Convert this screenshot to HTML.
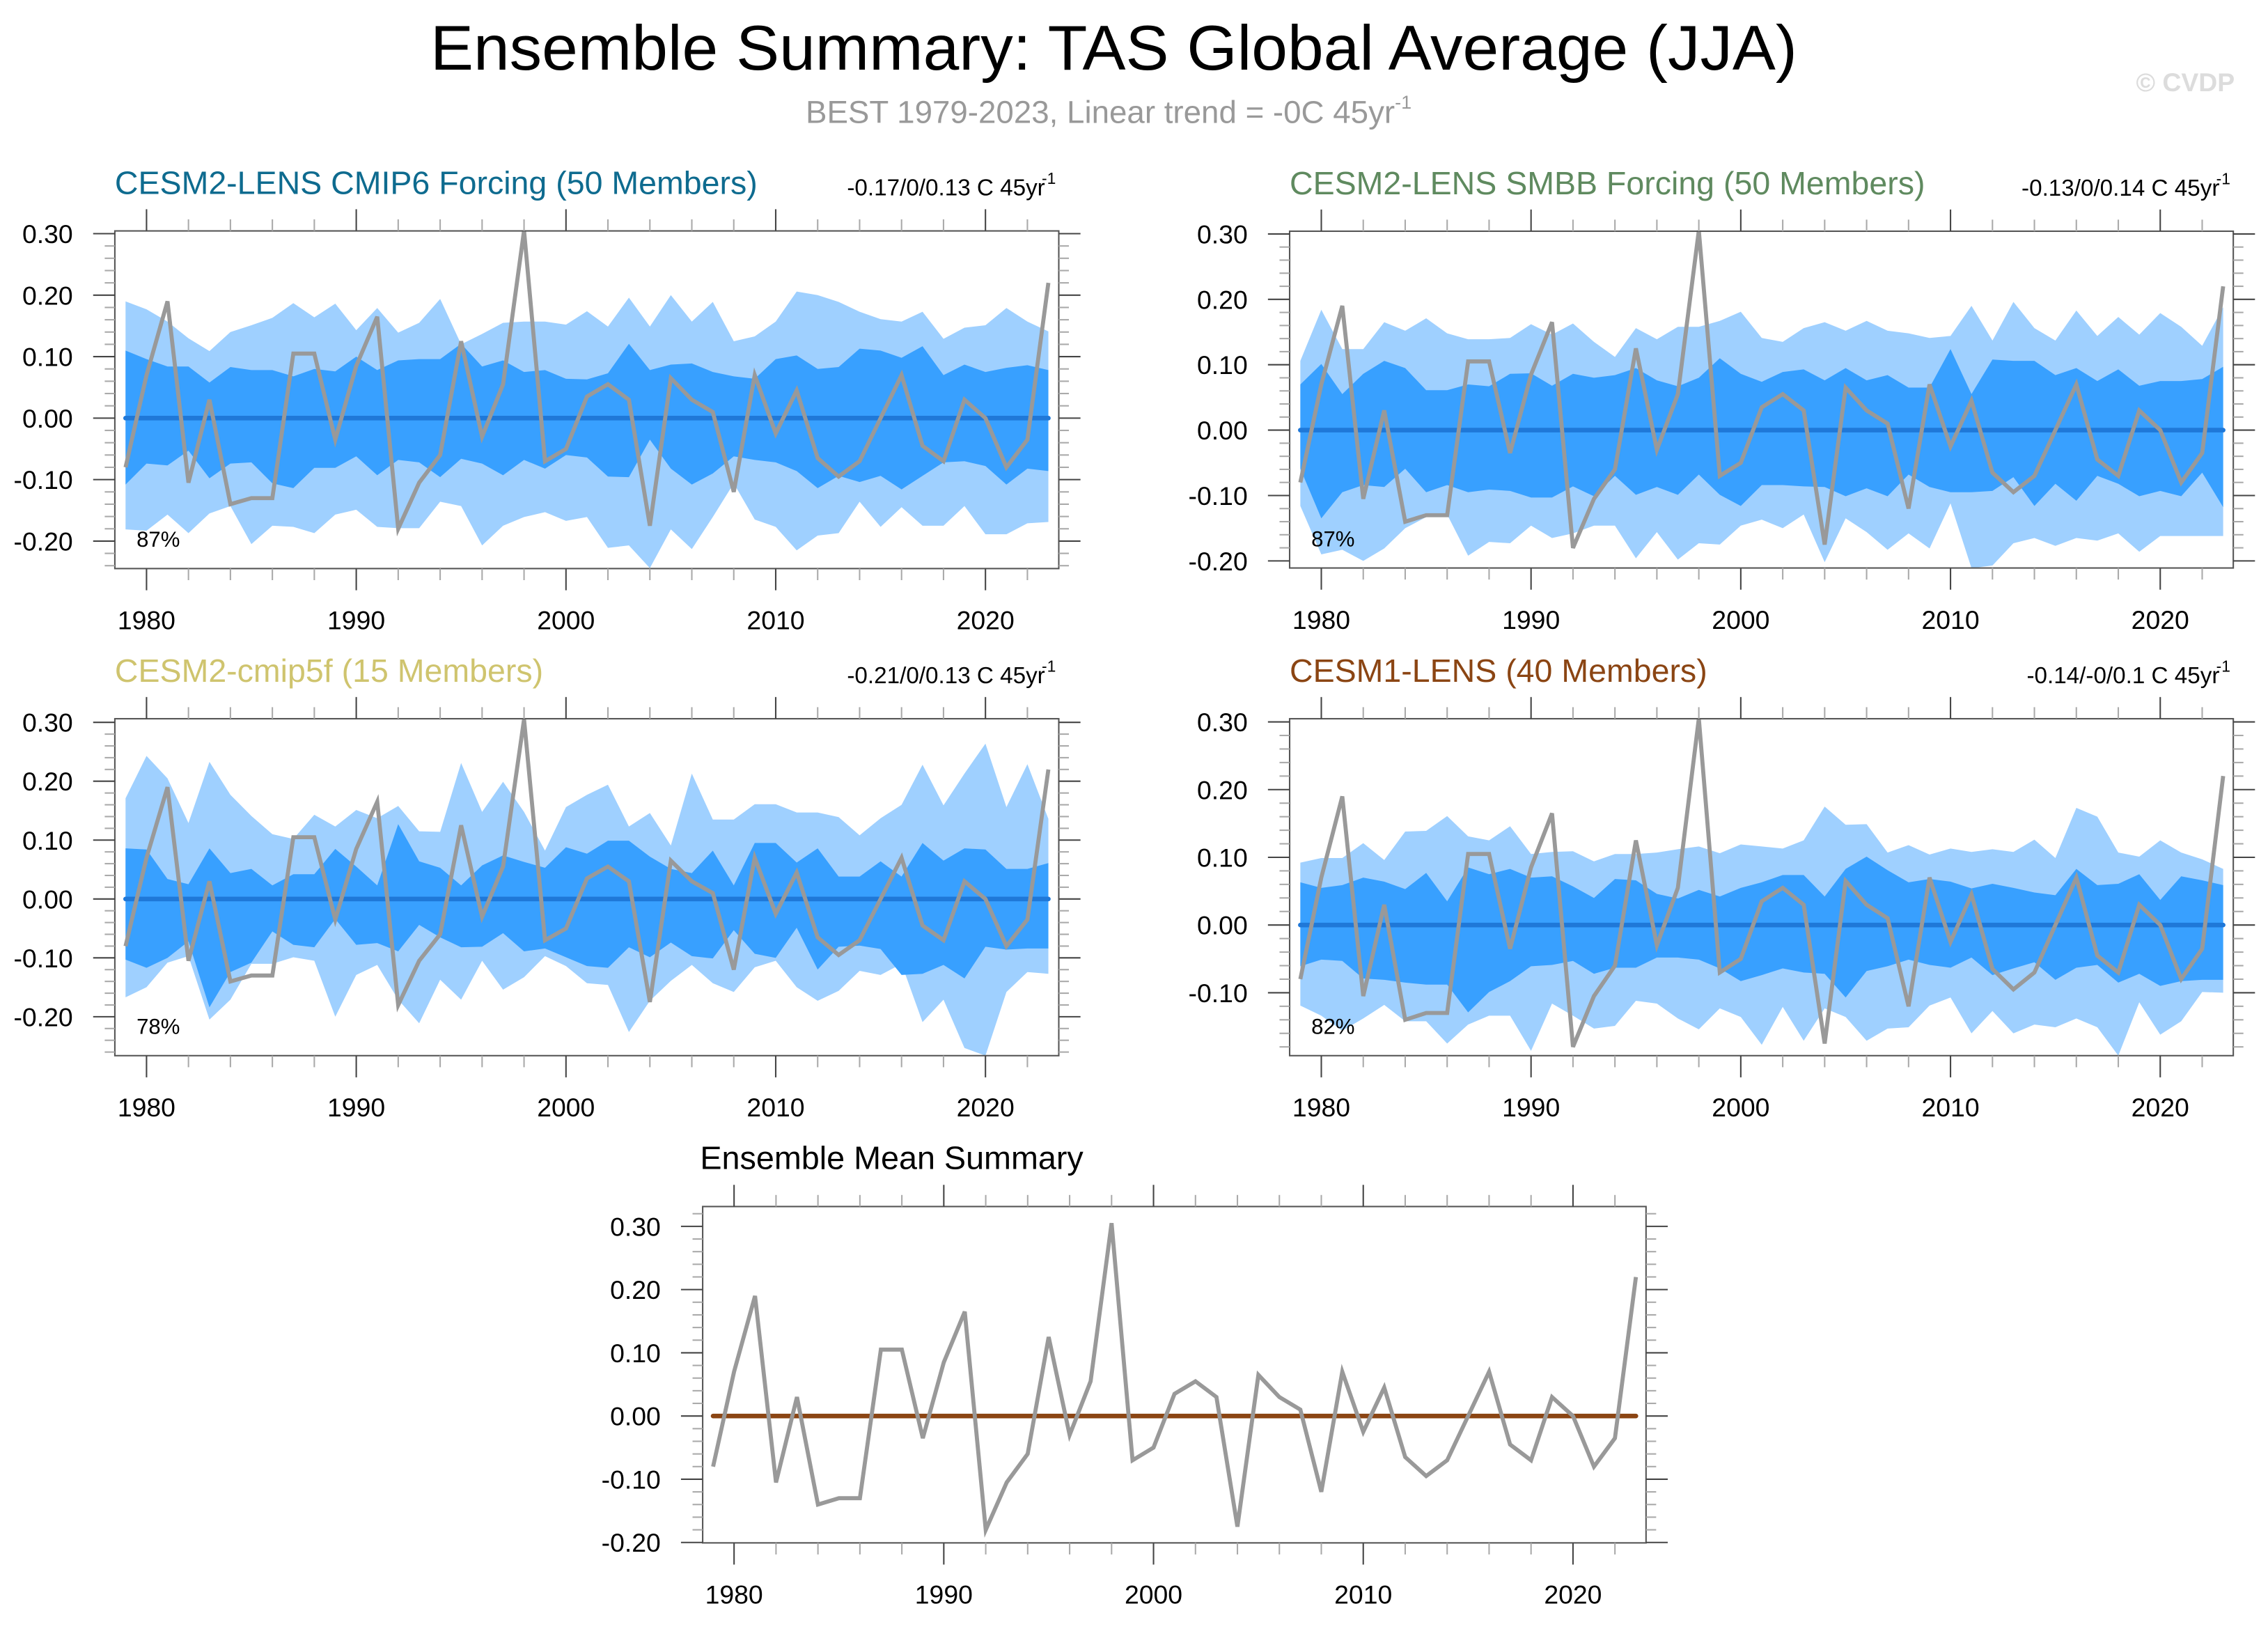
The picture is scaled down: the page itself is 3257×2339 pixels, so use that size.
<!DOCTYPE html>
<html><head><meta charset="utf-8"><style>
html,body{margin:0;padding:0;background:#fff;}
svg{display:block;font-family:"Liberation Sans",Arial,sans-serif;}
</style></head><body>
<svg id="chart" width="3257" height="2339" viewBox="0 0 1568 1126" xmlns="http://www.w3.org/2000/svg">
<rect x="0" y="0" width="1568" height="1126" fill="#fff"/>
<text x="770" y="48" font-size="44" text-anchor="middle" textLength="945" lengthAdjust="spacingAndGlyphs" fill="#000">Ensemble Summary: TAS Global Average (JJA)</text>
<text x="557" y="85" font-size="22" fill="#999">BEST 1979-2023, Linear trend = -0C 45yr<tspan font-size="13" dy="-10">-1</tspan></text>
<text x="1545" y="63" font-size="18" font-weight="bold" text-anchor="end" fill="#dcdcdc">© CVDP</text>
<g id="panels"></g>
</svg>
<script>
const years = [];
for (let y = 1979; y <= 2023; y++) years.push(y);
const obs = [-0.08,0.07,0.19,-0.105,0.03,-0.14,-0.13,-0.13,0.105,0.105,-0.035,0.085,0.165,-0.18,-0.105,-0.06,0.125,-0.03,0.055,0.305,-0.07,-0.05,0.035,0.055,0.03,-0.175,0.065,0.03,0.01,-0.12,0.07,-0.025,0.045,-0.065,-0.095,-0.07,0.0,0.07,-0.045,-0.07,0.03,0.0,-0.08,-0.035,0.22];

const p1OuterUp = [0.19,0.177,0.157,0.13,0.109,0.14,0.151,0.163,0.187,0.164,0.186,0.143,0.179,0.139,0.155,0.194,0.12,0.137,0.155,0.157,0.157,0.152,0.174,0.149,0.196,0.149,0.2,0.157,0.189,0.125,0.133,0.157,0.206,0.2,0.189,0.173,0.161,0.157,0.173,0.129,0.147,0.151,0.179,0.157,0.141];
const p1InnerUp = [0.11,0.096,0.084,0.084,0.058,0.083,0.078,0.078,0.068,0.08,0.076,0.1,0.078,0.094,0.096,0.096,0.121,0.084,0.094,0.075,0.078,0.064,0.063,0.073,0.121,0.078,0.087,0.089,0.075,0.068,0.064,0.096,0.102,0.08,0.083,0.113,0.11,0.098,0.117,0.07,0.087,0.075,0.082,0.086,0.078];
const p1InnerLo = [-0.108,-0.074,-0.077,-0.053,-0.098,-0.074,-0.072,-0.106,-0.114,-0.081,-0.081,-0.062,-0.093,-0.068,-0.072,-0.096,-0.066,-0.074,-0.093,-0.068,-0.082,-0.06,-0.064,-0.095,-0.096,-0.035,-0.082,-0.108,-0.09,-0.062,-0.068,-0.072,-0.086,-0.114,-0.094,-0.104,-0.094,-0.116,-0.094,-0.072,-0.07,-0.078,-0.108,-0.082,-0.086];
const p1OuterLo = [-0.181,-0.183,-0.157,-0.187,-0.155,-0.143,-0.205,-0.175,-0.177,-0.187,-0.157,-0.149,-0.177,-0.179,-0.179,-0.136,-0.143,-0.207,-0.175,-0.161,-0.153,-0.167,-0.161,-0.211,-0.207,-0.244,-0.181,-0.213,-0.161,-0.106,-0.165,-0.177,-0.215,-0.191,-0.187,-0.136,-0.177,-0.145,-0.175,-0.175,-0.143,-0.189,-0.189,-0.171,-0.169];

const p2OuterUp = [0.106,0.184,0.124,0.124,0.165,0.152,0.171,0.148,0.139,0.139,0.141,0.162,0.146,0.163,0.135,0.112,0.156,0.139,0.158,0.158,0.167,0.181,0.141,0.135,0.156,0.165,0.152,0.167,0.152,0.148,0.141,0.144,0.19,0.137,0.196,0.156,0.137,0.183,0.144,0.173,0.146,0.179,0.158,0.129,0.188];
const p2InnerUp = [0.07,0.101,0.055,0.086,0.106,0.095,0.061,0.061,0.07,0.067,0.086,0.087,0.068,0.086,0.08,0.084,0.095,0.076,0.067,0.08,0.11,0.086,0.074,0.089,0.093,0.076,0.095,0.076,0.084,0.065,0.065,0.124,0.055,0.108,0.106,0.106,0.084,0.095,0.075,0.093,0.068,0.075,0.075,0.078,0.097];
const p2InnerLo = [-0.059,-0.135,-0.095,-0.084,-0.087,-0.059,-0.095,-0.084,-0.095,-0.091,-0.093,-0.103,-0.103,-0.086,-0.101,-0.07,-0.099,-0.087,-0.099,-0.068,-0.099,-0.116,-0.084,-0.084,-0.086,-0.087,-0.101,-0.089,-0.101,-0.068,-0.087,-0.095,-0.095,-0.093,-0.072,-0.116,-0.082,-0.108,-0.07,-0.082,-0.101,-0.093,-0.101,-0.065,-0.118];
const p2OuterLo = [-0.116,-0.19,-0.183,-0.2,-0.181,-0.15,-0.133,-0.129,-0.192,-0.171,-0.173,-0.146,-0.165,-0.158,-0.146,-0.146,-0.196,-0.156,-0.198,-0.173,-0.175,-0.146,-0.137,-0.15,-0.129,-0.202,-0.135,-0.156,-0.183,-0.158,-0.181,-0.112,-0.211,-0.207,-0.173,-0.165,-0.177,-0.165,-0.169,-0.158,-0.186,-0.162,-0.162,-0.162,-0.162];

const p3OuterUp = [0.171,0.243,0.205,0.129,0.233,0.177,0.141,0.11,0.102,0.143,0.123,0.151,0.137,0.158,0.115,0.114,0.231,0.148,0.199,0.148,0.082,0.156,0.177,0.194,0.123,0.146,0.091,0.213,0.135,0.135,0.161,0.161,0.147,0.147,0.139,0.108,0.137,0.16,0.228,0.159,0.213,0.264,0.156,0.229,0.136];
const p3InnerUp = [0.086,0.084,0.034,0.025,0.086,0.044,0.051,0.023,0.042,0.042,0.085,0.055,0.023,0.127,0.064,0.053,0.023,0.057,0.074,0.063,0.053,0.088,0.077,0.099,0.099,0.072,0.051,0.044,0.082,0.023,0.095,0.095,0.062,0.086,0.038,0.038,0.064,0.038,0.095,0.065,0.086,0.084,0.051,0.051,0.061];
const p3InnerLo = [-0.103,-0.117,-0.1,-0.072,-0.184,-0.124,-0.108,-0.055,-0.078,-0.082,-0.034,-0.078,-0.075,-0.089,-0.044,-0.065,-0.082,-0.081,-0.058,-0.089,-0.084,-0.099,-0.114,-0.117,-0.082,-0.099,-0.074,-0.097,-0.101,-0.053,-0.093,-0.1,-0.049,-0.12,-0.081,-0.079,-0.085,-0.129,-0.127,-0.112,-0.135,-0.081,-0.086,-0.084,-0.084];
const p3OuterLo = [-0.167,-0.15,-0.108,-0.097,-0.205,-0.171,-0.11,-0.11,-0.099,-0.105,-0.2,-0.129,-0.112,-0.171,-0.211,-0.137,-0.171,-0.105,-0.154,-0.133,-0.097,-0.114,-0.143,-0.146,-0.226,-0.173,-0.139,-0.112,-0.143,-0.158,-0.116,-0.105,-0.15,-0.173,-0.156,-0.122,-0.129,-0.11,-0.209,-0.171,-0.253,-0.266,-0.158,-0.124,-0.127];

const p4OuterUp = [0.092,0.099,0.099,0.121,0.096,0.138,0.139,0.161,0.131,0.125,0.146,0.105,0.108,0.109,0.094,0.105,0.105,0.107,0.112,0.116,0.106,0.119,0.116,0.113,0.125,0.175,0.148,0.149,0.107,0.118,0.104,0.113,0.108,0.112,0.108,0.126,0.099,0.173,0.16,0.107,0.101,0.125,0.107,0.097,0.083];
const p4InnerUp = [0.063,0.055,0.059,0.07,0.064,0.053,0.077,0.035,0.085,0.075,0.083,0.07,0.072,0.057,0.04,0.068,0.066,0.046,0.039,0.052,0.042,0.055,0.063,0.074,0.074,0.042,0.083,0.101,0.081,0.063,0.068,0.064,0.054,0.061,0.055,0.048,0.044,0.083,0.059,0.061,0.075,0.037,0.072,0.066,0.059];
const p4InnerLo = [-0.061,-0.051,-0.053,-0.079,-0.081,-0.085,-0.088,-0.088,-0.129,-0.099,-0.083,-0.061,-0.059,-0.053,-0.072,-0.063,-0.063,-0.048,-0.048,-0.051,-0.064,-0.083,-0.074,-0.064,-0.07,-0.072,-0.107,-0.068,-0.061,-0.051,-0.059,-0.063,-0.048,-0.074,-0.064,-0.055,-0.081,-0.063,-0.059,-0.085,-0.072,-0.09,-0.083,-0.081,-0.081];
const p4OuterLo = [-0.119,-0.134,-0.156,-0.138,-0.118,-0.142,-0.142,-0.175,-0.147,-0.134,-0.134,-0.186,-0.116,-0.134,-0.153,-0.149,-0.112,-0.116,-0.138,-0.154,-0.123,-0.136,-0.177,-0.121,-0.171,-0.123,-0.136,-0.171,-0.153,-0.151,-0.119,-0.107,-0.16,-0.127,-0.16,-0.147,-0.151,-0.138,-0.151,-0.193,-0.114,-0.162,-0.142,-0.099,-0.1];

const p1Mean = years.map(() => 0);
const p5Mean = years.map(() => 0);

const yTicks4 = [0.3,0.2,0.1,0.0,-0.1,-0.2];
const yTicksP4 = [0.3,0.2,0.1,0.0,-0.1];
const xTicks = [1980,1990,2000,2010,2020];

const panels = [
 {name:'cesm2-lens-cmip6', title:'CESM2-LENS CMIP6 Forcing (50 Members)', color:'#0e6b8f', trend:'-0.17/0/0.13 C 45yr', pct:'87%',
  bx0:79.4, bx1:732, by0:159.6, by1:393, yx0:86.8, yx1:724.8, zero:289, per:42.5, ticks:yTicks4,
  ou:p1OuterUp, iu:p1InnerUp, il:p1InnerLo, ol:p1OuterLo, mean:p1Mean, meanColor:'#1f78d8'},
 {name:'cesm2-lens-smbb', title:'CESM2-LENS SMBB Forcing (50 Members)', color:'#5f8a5f', trend:'-0.13/0/0.14 C 45yr', pct:'87%',
  bx0:891.6, bx1:1544, by0:159.8, by1:392.6, yx0:899, yx1:1537, zero:297.3, per:45.2, ticks:yTicks4,
  ou:p2OuterUp, iu:p2InnerUp, il:p2InnerLo, ol:p2OuterLo, mean:p1Mean, meanColor:'#1f78d8'},
 {name:'cesm2-cmip5f', title:'CESM2-cmip5f (15 Members)', color:'#cfc46e', trend:'-0.21/0/0.13 C 45yr', pct:'78%',
  bx0:79.4, bx1:732, by0:496.8, by1:729.7, yx0:86.8, yx1:724.8, zero:621.4, per:40.7, ticks:yTicks4,
  ou:p3OuterUp, iu:p3InnerUp, il:p3InnerLo, ol:p3OuterLo, mean:p1Mean, meanColor:'#1f78d8'},
 {name:'cesm1-lens', title:'CESM1-LENS (40 Members)', color:'#8b4513', trend:'-0.14/-0/0.1 C 45yr', pct:'82%',
  bx0:891.6, bx1:1544, by0:496.8, by1:729.7, yx0:899, yx1:1537, zero:639.4, per:46.8, ticks:yTicksP4,
  ou:p4OuterUp, iu:p4InnerUp, il:p4InnerLo, ol:p4OuterLo, mean:p1Mean, meanColor:'#1f78d8'},
 {name:'ensemble-mean-summary', title:'Ensemble Mean Summary', color:'#000', trend:null, pct:null,
  bx0:485.8, bx1:1138, by0:834, by1:1066.5, yx0:493, yx1:1131, zero:978.8, per:43.7, ticks:yTicks4,
  ou:null, mean:p5Mean, meanColor:'#8b4513'}
];

const NS = 'http://www.w3.org/2000/svg';
const root = document.getElementById('panels');
function mk(tag, attrs, parent) {
  const e = document.createElementNS(NS, tag);
  for (const k in attrs) e.setAttribute(k, attrs[k]);
  (parent || root).appendChild(e);
  return e;
}
function fmt(v){ return v.toFixed(2).replace('-0.00','0.00'); }

panels.forEach(p => {
  const xs = yr => p.yx0 + (yr - 1979) * (p.yx1 - p.yx0) / 44;
  const ys = v => p.zero - v / 0.1 * p.per;
  const g = mk('g', {});
  
  

  if (p.ou) {
    const band = (up, lo, fill, nm) => {
      let d = '';
      years.forEach((yr, i) => { d += (i ? 'L' : 'M') + xs(yr).toFixed(1) + ',' + ys(up[Math.min(i, up.length-1)]).toFixed(1); });
      for (let i = years.length - 1; i >= 0; i--) d += 'L' + xs(years[i]).toFixed(1) + ',' + ys(lo[Math.min(i, lo.length-1)]).toFixed(1);
      const e = mk('path', {d: d + 'Z', fill: fill}, g);
      
      
    };
    band(p.ou, p.ol, '#9fd0ff', 'outer-spread-band');
    band(p.iu, p.il, '#38a0ff', 'inner-spread-band');
  }
  let dm = '';
  years.forEach((yr, i) => { dm += (i ? 'L' : 'M') + xs(yr).toFixed(1) + ',' + ys(p.mean[i]).toFixed(1); });
  const ml = mk('path', {d: dm, fill: 'none', stroke: p.meanColor, 'stroke-width': 3.2, 'stroke-linecap': 'round'}, g);
  
  
  let d = '';
  years.forEach((yr, i) => { d += (i ? 'L' : 'M') + xs(yr).toFixed(1) + ',' + ys(obs[i]).toFixed(1); });
  const ol = mk('path', {d: d, fill: 'none', stroke: '#999', 'stroke-width': 2.8, 'stroke-linejoin': 'miter'}, g);
  
  

  const fr = mk('rect', {x: p.bx0, y: p.by0, width: p.bx1 - p.bx0, height: p.by1 - p.by0, fill: 'none', stroke: '#555', 'stroke-width': 1}, g);
  
  

  const vTop = (p.zero - p.by0) / p.per * 0.1, vBot = (p.zero - p.by1) / p.per * 0.1;
  for (let k = Math.ceil(vBot / 0.02 - 1e-6); k <= Math.floor(vTop / 0.02 + 1e-6); k++) {
    const v = k * 0.02, y = ys(v);
    const major = Math.abs(k % 5) === 0;
    const L = major ? 15 : 7;
    mk('line', {x1: p.bx0 - L, x2: p.bx0, y1: y, y2: y, stroke: major ? '#444' : '#aaa', 'stroke-width': 1}, g);
    mk('line', {x1: p.bx1, x2: p.bx1 + L, y1: y, y2: y, stroke: major ? '#444' : '#aaa', 'stroke-width': 1}, g);
  }
  p.ticks.forEach(v => {
    const t = mk('text', {x: p.bx0 - 29, y: ys(v) + 6.5, 'font-size': 18, 'text-anchor': 'end', fill: '#000'}, g);
    t.textContent = fmt(v);
    
    
  });
  for (let yr = 1978; yr <= 2024; yr += 2) {
    const x = xs(yr);
    if (x < p.bx0 || x > p.bx1) continue;
    const major = yr % 10 === 0;
    const L = major ? 15 : 8;
    mk('line', {x1: x, x2: x, y1: p.by0 - L, y2: p.by0, stroke: major ? '#444' : '#aaa', 'stroke-width': 1}, g);
    mk('line', {x1: x, x2: x, y1: p.by1, y2: p.by1 + L, stroke: major ? '#444' : '#aaa', 'stroke-width': 1}, g);
  }
  xTicks.forEach(yr => {
    const t = mk('text', {x: xs(yr), y: p.by1 + 42, 'font-size': 18, 'text-anchor': 'middle', fill: '#000'}, g);
    t.textContent = yr;
    
    
  });
  if (p.trend) {
    const t = mk('text', {x: p.bx0, y: p.by0 - 25.5, 'font-size': 22.4, fill: p.color}, g);
    t.textContent = p.title;
    
    
    const tr = mk('text', {x: p.bx1 - 9.5, y: p.by0 - 24.5, 'font-size': 16, 'text-anchor': 'end', fill: '#000'}, g);
    tr.textContent = p.trend;
    
    
    const sup = mk('text', {x: p.bx1 - 2, y: p.by0 - 32.5, 'font-size': 11, 'text-anchor': 'end', fill: '#000'}, g);
    sup.textContent = '-1';
    
    
    const pc = mk('text', {x: p.bx0 + 15, y: p.by1 - 15, 'font-size': 15, fill: '#000'}, g);
    pc.textContent = p.pct;
    
    
  } else {
    const t = mk('text', {x: 484, y: 808, 'font-size': 22.5, fill: '#000'}, g);
    t.textContent = p.title;
    
    
  }
});
</script>
</body></html>
